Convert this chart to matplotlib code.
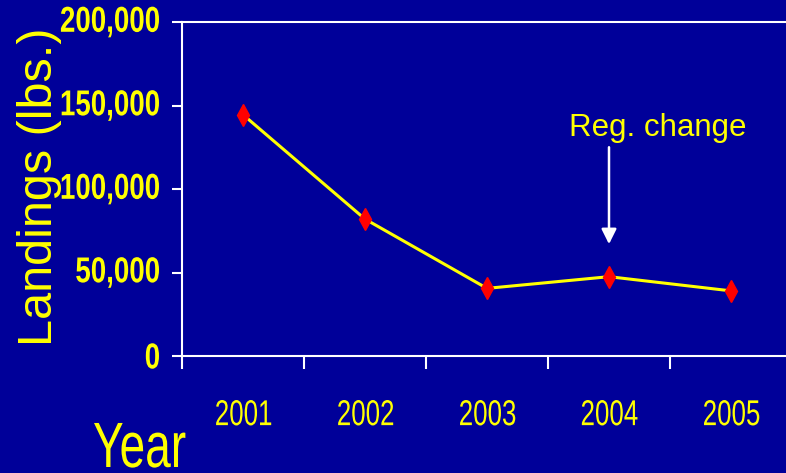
import matplotlib
matplotlib.use("Agg")
import matplotlib.pyplot as plt
import matplotlib.transforms as mtransforms
from matplotlib.font_manager import FontProperties
from matplotlib.patches import PathPatch
from matplotlib.textpath import TextPath
import numpy as np

# data
years = ["2001", "2002", "2003", "2004", "2005"]
landings = [144500, 82000, 40500, 47500, 39000]
y_ticks = [0, 50000, 100000, 150000, 200000]
y_tick_labels = ["0", "50,000", "100,000", "150,000", "200,000"]
note_year = "2004"
note_text = "Reg. change"

bg = "#000099"
yellow = "#FFFF00"
wide = ["Liberation Sans", "DejaVu Sans"]


def squeezed_text(fig, x, y, s, base, size, sx=0.72, weight="normal",
                  ha="left", va="baseline", dx=0, dy=0, color=yellow):
    # no narrow Arial here, so squeeze a text path sideways instead
    prop = FontProperties(family=wide, weight=weight)
    path = TextPath((0, 0), s, size=size, prop=prop)
    verts = path.vertices
    x0, x1 = verts[:, 0].min(), verts[:, 0].max()
    y0, y1 = verts[:, 1].min(), verts[:, 1].max()
    ox = {"left": x0, "center": (x0 + x1) / 2, "right": x1}[ha]
    oy = {"baseline": 0, "bottom": y0, "center": (y0 + y1) / 2,
          "top": y1}[va]
    trans = (mtransforms.Affine2D().translate(-ox, -oy).scale(sx, 1)
             .translate(dx, dy)
             + mtransforms.ScaledTranslation(x, y, base))
    patch = PathPatch(path, transform=trans, facecolor=color, lw=0)
    fig.add_artist(patch)
    return patch


fig = plt.figure(figsize=(7.86, 4.73), dpi=100, facecolor=bg)
ax = fig.add_axes([182 / 786, 1 - 356 / 473, 610 / 786, 334 / 473])
ax.set_facecolor(bg)

# categories sit in the middle of each tick interval
x = np.arange(len(years)) + 0.5
ax.plot(x, landings, color=yellow, lw=2.2, zorder=2)
ax.plot(x, landings, ls="none", marker="d", ms=11, color="red",
        markeredgecolor="red", zorder=3)

ax.set_xlim(0, len(years))
ax.set_ylim(0, 200000)

ax.set_xticks(np.arange(len(years) + 1))
ax.tick_params(axis="x", direction="out", length=9, width=1.5,
               color="white", labelbottom=False)
ax.set_yticks(y_ticks)
ax.tick_params(axis="y", direction="out", length=7, width=1.5,
               color="white", labelleft=False)

for side in ["left", "bottom", "top"]:
    ax.spines[side].set_color("white")
    ax.spines[side].set_linewidth(1.5)
ax.spines["right"].set_visible(False)

# tick labels, drawn as squeezed paths
xlab_trans = mtransforms.blended_transform_factory(ax.transData, ax.transAxes)
for xi, yr in zip(x, years):
    squeezed_text(fig, xi, 0, yr, xlab_trans, size=36, sx=0.72,
                  ha="center", va="top", dy=-44)

ylab_trans = mtransforms.blended_transform_factory(ax.transAxes, ax.transData)
for yv, lab in zip(y_ticks, y_tick_labels):
    squeezed_text(fig, 0, yv, lab, ylab_trans, size=36, sx=0.77,
                  weight="bold", ha="right", va="center", dx=-23)

# annotation with arrow
xi = x[years.index(note_year)]
ax.annotate("", xy=(xi, 67000), xytext=(xi, 125000),
            arrowprops=dict(arrowstyle="-|>,head_length=0.9,head_width=0.45",
                            color="white", lw=1.8, shrinkA=0, shrinkB=0))
ax.text(xi + 0.4, 132000, note_text, color=yellow, fontsize=22.5,
        family=wide, ha="center", va="baseline")

fig.text(40 / 786, 1 - 187 / 473, "Landings (lbs.)", rotation=90,
         color=yellow, fontsize=35, family=wide, ha="center", va="center")
squeezed_text(fig, 93 / 786, 1 - 467 / 473, "Year", fig.transFigure,
              size=64, sx=0.72, ha="left", va="baseline")

fig.savefig("out.png", dpi=100, facecolor=bg)
